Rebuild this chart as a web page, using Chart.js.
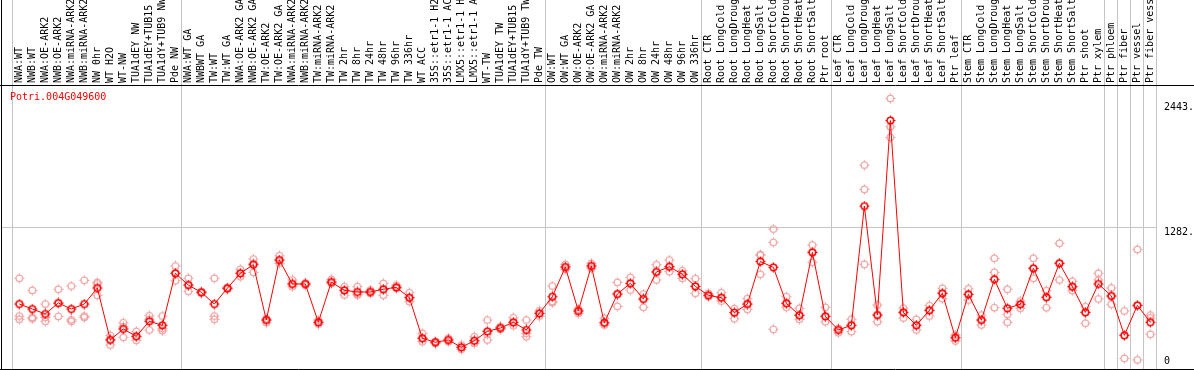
<!DOCTYPE html>
<html>
<head>
<meta charset="utf-8">
<script src="https://cdn.jsdelivr.net/npm/chart.js@4.4.1/dist/chart.umd.min.js"></script>
<style>
  html, body { margin: 0; padding: 0; background: #fff; }
  #chart { display: block; }
</style>
</head>
<body>
<canvas id="chart" width="1194" height="370"></canvas>
<script>
// ── Data ───────────────────────────────────────────────────────────────────
const GENE_ID = "Potri.004G049600";

const labels = [
  "NWA:WT", "NWB:WT", "NWA:OE-ARK2", "NWB:OE-ARK2", "NWA:miRNA-ARK2", "NWB:miRNA-ARK2",
  "NW 0hr", "WT H2O", "WT-NW", "TUA1dEY NW", "TUA1dEY+TUB15 NW", "TUA1dY+TUB9 NW", "Pde NW",
  "NWA:WT GA", "NWBWT GA", "TW:WT", "TW:WT GA", "NWA:OE-ARK2 GA", "NWB:OE-ARK2 GA",
  "TW:OE-ARK2", "TW:OE-ARK2 GA", "NWA:miRNA-ARK2 GA", "NWB:miRNA-ARK2 GA", "TW:miRNA-ARK2",
  "TW:miRNA-ARK2 GA", "TW 2hr", "TW 8hr", "TW 24hr", "TW 48hr", "TW 96hr", "TW 336hr", "WT ACC",
  "35S::etr1-1 H2O", "35S::etr1-1 ACC", "LMX5::etr1-1 H2O", "LMX5::etr1-1 ACC", "WT-TW",
  "TUA1dEY TW", "TUA1dEY+TUB15 TW", "TUA1dY+TUB9 TW", "Pde TW",
  "OW:WT", "OW:WT GA", "OW:OE-ARK2", "OW:OE-ARK2 GA", "OW:miRNA-ARK2", "OW:miRNA-ARK2 GA",
  "OW 2hr", "OW 8hr", "OW 24hr", "OW 48hr", "OW 96hr", "OW 336hr",
  "Root CTR", "Root LongCold", "Root LongDrought", "Root LongHeat", "Root LongSalt",
  "Root ShortCold", "Root ShortDrought", "Root ShortHeat", "Root ShortSalt", "Ptr root",
  "Leaf CTR", "Leaf LongCold", "Leaf LongDrought", "Leaf LongHeat", "Leaf LongSalt",
  "Leaf ShortCold", "Leaf ShortDrought", "Leaf ShortHeat", "Leaf ShortSalt", "Ptr leaf",
  "Stem CTR", "Stem LongCold", "Stem LongDrought", "Stem LongHeat", "Stem LongSalt",
  "Stem ShortCold", "Stem ShortDrought", "Stem ShortHeat", "Stem ShortSalt", "Ptr shoot", "Ptr xylem",
  "Ptr phloem", "Ptr fiber", "Ptr vessel", "Ptr fiber vessel",
];

// number of samples in each block between the grey separators
const groupSizes = [13, 28, 12, 10, 10, 11, 1, 1, 1, 1];

const means = [
  575, 529, 483, 585, 529, 575, 724, 242, 344, 276, 415, 378, 860,
  751, 684, 575, 721, 860, 940, 427, 983, 761, 761, 406, 779, 702, 687, 687, 712, 730, 634,
  258, 221, 242, 174, 235, 322, 353, 406, 335, 489,
  643, 918, 511, 928, 402, 668, 767, 622, 872, 921, 851, 739,
  656, 634, 495, 575, 969, 915, 582, 471, 1054, 461,
  335, 378, 1483, 473, 2276, 498, 378, 517, 675, 263,
  665, 427, 804, 536, 573, 906, 638, 953, 736, 498, 761,
  650, 285, 563, 406,
];

const rep1 = [
  814, 702, 575, 712, 742, 795, 776, 285, 402, 322, 467, 464, 928,
  814, 687, 814, 730, 897, 992, 439, 1023, 798, 770, 427, 804, 736, 736, 705, 767, 749, 680,
  304, 226, 258, 196, 272, 427, 365, 448, 427, 513,
  742, 943, 529, 953, 443, 776, 823, 668, 940, 983, 884, 810,
  675, 680, 532, 625, 1029, 1270, 643, 536, 1122, 545,
  350, 434, 1863, 566, 2481, 538, 434, 560, 721, 288,
  717, 473, 999, 712, 603, 999, 699, 1138, 786, 550, 860,
  724, 511, 1082, 473,
];

const rep2 = [
  464, 452, 452, 461, 415, 464, 761, 196, 267, 239, 335, 328, 791,
  693, 677, 464, 714, 828, 869, 402, 953, 736, 751, 390, 767, 659, 659, 675, 656, 721, 597,
  226, 211, 226, 156, 211, 242, 341, 374, 272, 464,
  587, 897, 489, 906, 381, 668, 705, 545, 798, 875, 814, 675,
  643, 603, 439, 526, 851, 1147, 545, 434, 962, 411,
  309, 319, 1638, 411, 2218, 446, 335, 464, 625, 233,
  612, 381, 869, 480, 536, 814, 541, 798, 699, 397, 798,
  573, 72, 57, 295,
];

const rep3 = [
  434, 439, 415, 581, 430, 452, 656, 245, 365, 272, 434, 347, 860,
  751, 687, 434, 721, 860, 953, 427, 983, 761, 761, 406, 779, 702, 666, 687, 712, 730, 634,
  258, 221, 242, 174, 233, 297, 353, 406, 304, 489,
  600, 918, 511, 928, 402, 554, 767, 622, 872, 921, 851, 739,
  656, 634, 495, 575, 1032, 341, 582, 471, 1054, 461,
  335, 378, 943, 473, 2120, 498, 378, 517, 675, 263,
  665, 427, 541, 406, 573, 906, 638, 953, 736, 498, 622,
  650, 285, 563, 446,
];

const yTicks = [0, 1282, 2443];
const yTickLabels = ["0", "1282.", "2443."];

// ── Style ──────────────────────────────────────────────────────────────────
const MONO = "'DejaVu Sans Mono', monospace";
const RED = "#ff0000";
const PINK = "#ee9898";
const SEP = "#c4c4c4";

// group start indices -> grey separators
const groupStarts = [];
groupSizes.reduce((start, n) => { groupStarts.push(start); return start + n; }, 0);

// ring marker with little spikes, like the original gif
function makeMarker(color, width) {
  const c = document.createElement("canvas");
  c.width = 11;
  c.height = 11;
  const g = c.getContext("2d");
  g.strokeStyle = color;
  g.lineWidth = width;
  g.beginPath();
  g.arc(5.5, 5.5, 3.3, 0, Math.PI * 2);
  g.stroke();
  g.lineWidth = 1;
  g.beginPath();
  g.moveTo(5.5, 0.5); g.lineTo(5.5, 2);
  g.moveTo(5.5, 9);   g.lineTo(5.5, 10.5);
  g.moveTo(0.5, 5.5); g.lineTo(2, 5.5);
  g.moveTo(9, 5.5);   g.lineTo(10.5, 5.5);
  g.stroke();
  return c;
}

const meanMarker = makeMarker(RED, 1.6);
const repMarker = makeMarker(PINK, 1.1);

// kill the label-driven padding so the plot box sits where we want it
function noPad(s) {
  s.paddingLeft = 0;
  s.paddingRight = 0;
  s.paddingTop = 0;
  s.paddingBottom = 0;
}

// frame lines + gene id
const framePlugin = {
  id: "frame",
  afterDraw(chart) {
    const { ctx, width, height, chartArea } = chart;
    ctx.save();
    ctx.strokeStyle = "#000";
    ctx.lineWidth = 1;
    ctx.beginPath();
    ctx.moveTo(0, chartArea.top + 0.5);
    ctx.lineTo(width, chartArea.top + 0.5);
    ctx.moveTo(0, chartArea.bottom + 0.5);
    ctx.lineTo(width, chartArea.bottom + 0.5);
    ctx.moveTo(chartArea.left + 0.5, 0);
    ctx.lineTo(chartArea.left + 0.5, height);
    ctx.stroke();
    ctx.fillStyle = RED;
    ctx.font = "10px " + MONO;
    ctx.textBaseline = "middle";
    ctx.fillText(GENE_ID, chartArea.left + 9, chartArea.top + 12);
    ctx.restore();
  },
};

// ── Chart ──────────────────────────────────────────────────────────────────
new Chart(document.getElementById("chart"), {
  type: "line",
  data: {
    datasets: [
      {
        label: GENE_ID,
        data: means.map((v, i) => ({ x: i, y: v })),
        borderColor: RED,
        borderWidth: 1,
        tension: 0,
        pointStyle: meanMarker,
        order: 0,
      },
      {
        type: "scatter",
        label: "replicates",
        data: [rep1, rep2, rep3].flatMap(r => r.map((v, i) => ({ x: i, y: v }))),
        pointStyle: repMarker,
        showLine: false,
        order: 1,
      },
    ],
  },
  options: {
    responsive: false,
    animation: false,
    devicePixelRatio: 1,
    layout: { autoPadding: false, padding: { left: 1, right: 0, top: 0, bottom: 1 } },
    plugins: {
      legend: { display: false },
      tooltip: { enabled: false },
    },
    scales: {
      x: {
        type: "linear",
        position: "top",
        bounds: "data",
        min: -1.408,
        max: 87.51,
        afterBuildTicks: s => { s.ticks = labels.map((_, i) => ({ value: i })); },
        afterFit: s => { s.height = 85; noPad(s); },
        ticks: {
          autoSkip: false,
          minRotation: 90,
          maxRotation: 90,
          padding: -83,
          labelOffset: 10,
          color: "#000",
          font: { family: MONO, size: 10, lineHeight: 1 },
          callback: (v, i) => labels[i],
        },
        grid: {
          offset: true,
          drawTicks: true,
          tickLength: 85,
          lineWidth: 1,
          color: c => (c.index === undefined || groupStarts.includes(c.index)) ? SEP : "transparent",
        },
        border: { display: false },
      },
      y: {
        type: "linear",
        position: "right",
        min: -27,
        max: 2605,
        afterBuildTicks: s => { s.ticks = yTicks.map(v => ({ value: v })); },
        afterFit: s => { s.width = 37; noPad(s); },
        ticks: {
          padding: 7,
          color: "#000",
          font: { family: MONO, size: 10, lineHeight: 1 },
          callback: (v, i) => i === 0 ? [yTickLabels[i], ""] : ["", yTickLabels[i]],
        },
        grid: {
          drawTicks: false,
          color: c => (c.tick && c.tick.value === yTicks[1]) ? SEP : "transparent",
        },
        border: { display: false },
      },
    },
  },
  plugins: [framePlugin],
});
</script>
</body>
</html>
